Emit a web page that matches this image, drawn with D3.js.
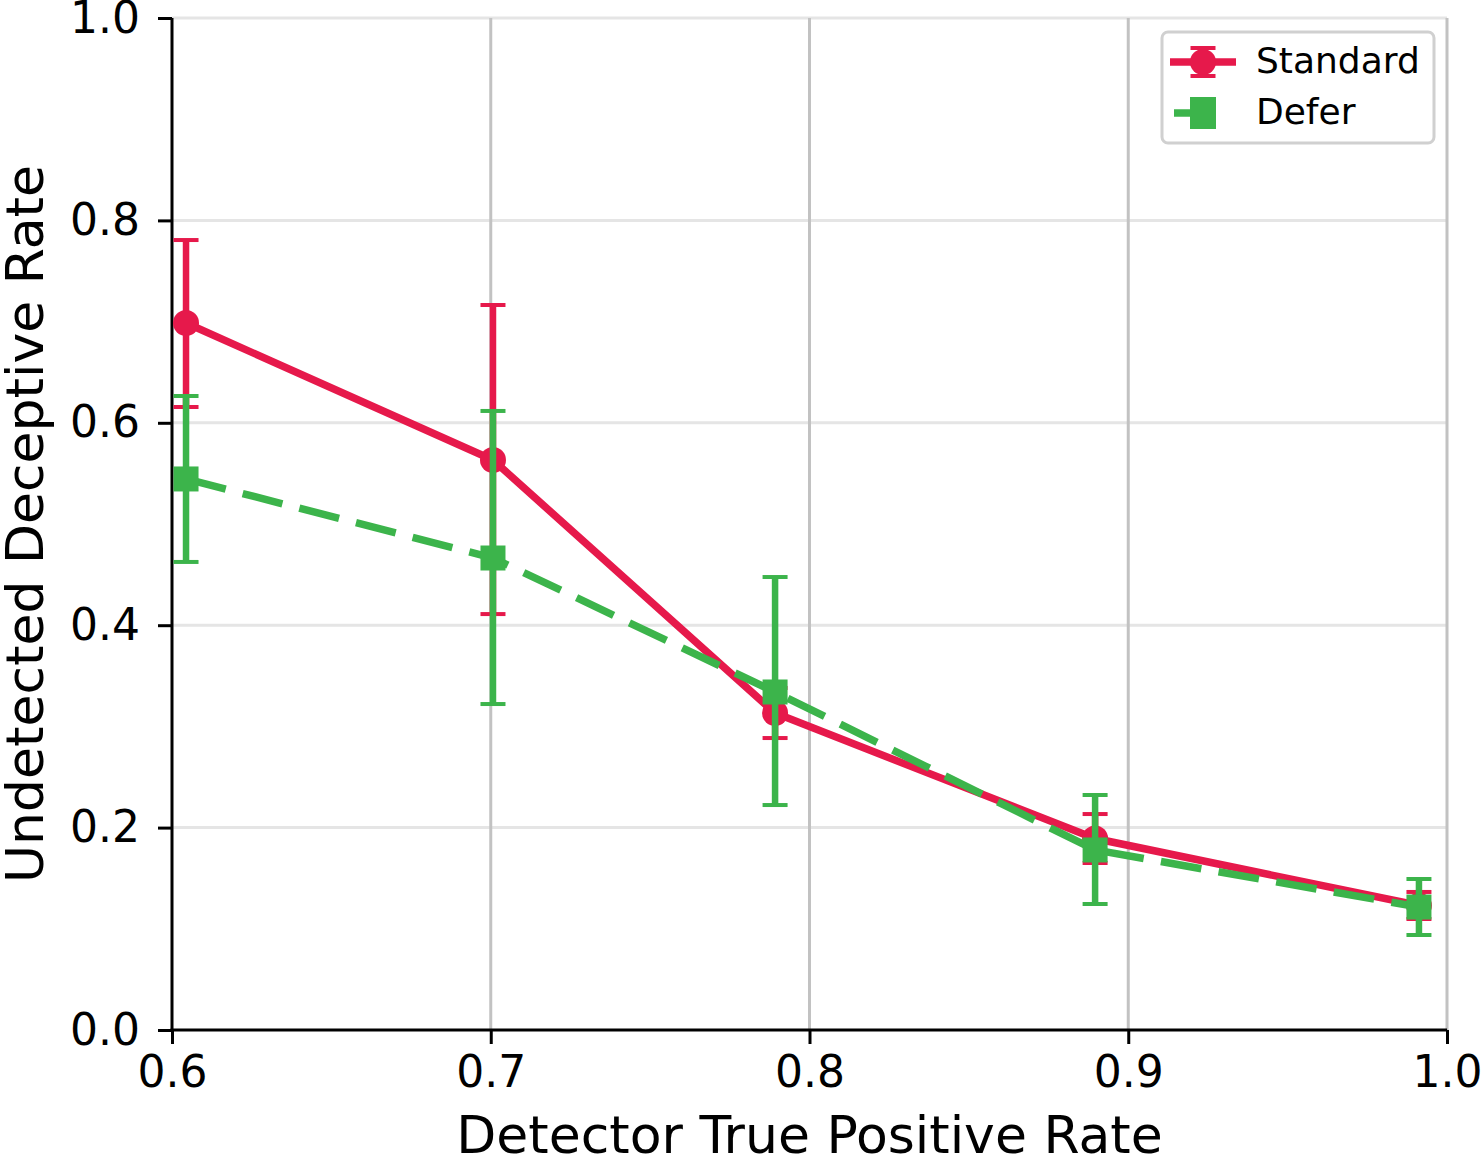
<!DOCTYPE html>
<html>
<head>
<meta charset="utf-8">
<script src="https://cdn.jsdelivr.net/npm/d3@7"></script>
<style>
  body { margin: 0; background: #fff; }
  text { font-family: "DejaVu Sans", sans-serif; }
</style>
</head>
<body>
<svg id="chart" width="1482" height="1163"></svg>
<script>
// detector TPR (x) for each run
const tprStandard = [0.6044, 0.7007, 0.7892, 0.8896, 0.9912];
const tprDefer = [0.6044, 0.7007, 0.7892, 0.8896, 0.9912];

// undetected deceptive rate, mean and error bar ends
const standardMean = [0.6986, 0.5632, 0.3132, 0.1892, 0.1230];
const standardLow = [0.6156, 0.4110, 0.2885, 0.1650, 0.1097];
const standardHigh = [0.7806, 0.7164, 0.3380, 0.2134, 0.1364];

const deferMean = [0.5445, 0.4664, 0.3340, 0.1779, 0.1215];
const deferLow = [0.4625, 0.3221, 0.2223, 0.1245, 0.0939];
const deferHigh = [0.6265, 0.6117, 0.4476, 0.2322, 0.1492];

const xTicks = [0.6, 0.7, 0.8, 0.9, 1.0];
const yTicks = [0.0, 0.2, 0.4, 0.6, 0.8, 1.0];

const seriesNames = ['Standard', 'Defer'];
const colors = { Standard: '#e6194b', Defer: '#3cb44b' };

const padding = { top: 18, right: 35, bottom: 133, left: 172 };

let svg = d3.select('#chart'),
  width = +svg.attr('width'),
  height = +svg.attr('height');

let x = d3.scaleLinear().domain([0.6, 1.0]).range([padding.left, width - padding.right]);
let y = d3.scaleLinear().domain([0, 1]).range([height - padding.bottom, padding.top]);

// grid lines
svg.append('g')
  .selectAll('line')
  .data(yTicks.filter(d => d > 0))
  .enter()
  .append('line')
  .attr('x1', x(0.6)).attr('x2', x(1.0))
  .attr('y1', d => y(d)).attr('y2', d => y(d))
  .attr('stroke', '#e5e5e5')
  .attr('stroke-width', 3);

svg.append('g')
  .selectAll('line')
  .data(xTicks.filter(d => d > 0.6))
  .enter()
  .append('line')
  .attr('x1', d => x(d)).attr('x2', d => x(d))
  .attr('y1', y(0)).attr('y2', y(1))
  .attr('stroke', '#c2c2c2')
  .attr('stroke-width', 3);

// axes
let xAxis = svg.append('g')
  .attr('transform', `translate(0, ${y(0)})`)
  .call(d3.axisBottom(x).tickValues(xTicks).tickFormat(d3.format('.1f')).tickSize(14).tickPadding(12));
let yAxis = svg.append('g')
  .attr('transform', `translate(${x(0.6)}, 0)`)
  .call(d3.axisLeft(y).tickValues(yTicks).tickFormat(d3.format('.1f')).tickSize(14).tickPadding(18));

[xAxis, yAxis].forEach(a => {
  a.selectAll('.domain').attr('stroke', '#000').attr('stroke-width', 3);
  a.selectAll('.tick line').attr('stroke', '#000').attr('stroke-width', 3);
  a.selectAll('.tick text').attr('fill', '#000').style('font-size', '44px');
});
// square off the domain ends (no outer ticks)
xAxis.select('.domain').attr('d', `M${x(0.6) - 1.5},0H${x(1.0)}`);
yAxis.select('.domain').attr('d', `M0,${y(0) + 1.5}V${y(1)}`);

// axis titles
svg.append('text')
  .attr('x', (x(0.6) + x(1.0)) / 2)
  .attr('y', 1153)
  .attr('text-anchor', 'middle')
  .style('font-size', '52px')
  .text('Detector True Positive Rate');

svg.append('text')
  .attr('transform', `translate(43, ${(y(0) + y(1)) / 2}) rotate(-90)`)
  .attr('text-anchor', 'middle')
  .style('font-size', '52px')
  .text('Undetected Deceptive Rate');

function buildSeries(xs, mean, low, high) {
  return xs.map((d, i) => ({ x: d, y: mean[i], lo: low[i], hi: high[i] }));
}

const standardData = buildSeries(tprStandard, standardMean, standardLow, standardHigh);
const deferData = buildSeries(tprDefer, deferMean, deferLow, deferHigh);

let line = d3.line().x(d => x(d.x)).y(d => y(d.y));
const capHalf = 12.5;

function drawSeries(data, name) {
  let color = colors[name];
  let g = svg.append('g');

  // error bars
  let eb = g.selectAll('.eb').data(data).enter().append('g');
  eb.append('line')
    .attr('x1', d => x(d.x)).attr('x2', d => x(d.x))
    .attr('y1', d => y(d.lo)).attr('y2', d => y(d.hi))
    .attr('stroke', color).attr('stroke-width', 6.5);
  eb.append('line')
    .attr('x1', d => x(d.x) - capHalf).attr('x2', d => x(d.x) + capHalf)
    .attr('y1', d => y(d.lo)).attr('y2', d => y(d.lo))
    .attr('stroke', color).attr('stroke-width', 4);
  eb.append('line')
    .attr('x1', d => x(d.x) - capHalf).attr('x2', d => x(d.x) + capHalf)
    .attr('y1', d => y(d.hi)).attr('y2', d => y(d.hi))
    .attr('stroke', color).attr('stroke-width', 4);

  // line
  let path = g.append('path')
    .datum(data)
    .attr('d', line)
    .attr('fill', 'none')
    .attr('stroke', color)
    .attr('stroke-width', 7.5);
  if (name === 'Defer') path.attr('stroke-dasharray', '41,17.5');

  // markers
  if (name === 'Standard') {
    g.selectAll('circle').data(data).enter().append('circle')
      .attr('cx', d => x(d.x)).attr('cy', d => y(d.y))
      .attr('r', 13)
      .attr('fill', color);
  } else {
    g.selectAll('rect').data(data).enter().append('rect')
      .attr('x', d => x(d.x) - 12.5).attr('y', d => y(d.y) - 12.5)
      .attr('width', 25).attr('height', 25)
      .attr('fill', color);
  }
}

drawSeries(standardData, 'Standard');
drawSeries(deferData, 'Defer');

// legend
let legend = svg.append('g');
legend.append('rect')
  .attr('x', 1162).attr('y', 32)
  .attr('width', 272).attr('height', 111)
  .attr('rx', 6)
  .attr('fill', '#fff').attr('fill-opacity', 0.8)
  .attr('stroke', '#d0d0d0').attr('stroke-width', 3);

const legendY = [62, 113];
seriesNames.forEach((name, i) => {
  let cy = legendY[i];
  let color = colors[name];
  if (name === 'Standard') {
    legend.append('line').attr('x1', 1170).attr('x2', 1236).attr('y1', cy).attr('y2', cy)
      .attr('stroke', color).attr('stroke-width', 7.5);
    legend.append('line').attr('x1', 1203).attr('x2', 1203).attr('y1', cy - 14).attr('y2', cy + 14)
      .attr('stroke', color).attr('stroke-width', 6.5);
    [cy - 14, cy + 14].forEach(cyy => {
      legend.append('line').attr('x1', 1203 - capHalf).attr('x2', 1203 + capHalf).attr('y1', cyy).attr('y2', cyy)
        .attr('stroke', color).attr('stroke-width', 4);
    });
    legend.append('circle').attr('cx', 1203).attr('cy', cy).attr('r', 13).attr('fill', color);
  } else {
    legend.append('line').attr('x1', 1174).attr('x2', 1203).attr('y1', cy).attr('y2', cy)
      .attr('stroke', color).attr('stroke-width', 7.5);
    legend.append('rect').attr('x', 1190).attr('y', cy - 16).attr('width', 26).attr('height', 32)
      .attr('fill', color);
  }
  legend.append('text')
    .attr('x', 1256).attr('y', cy + 11)
    .style('font-size', '36px')
    .text(name);
});
</script>
</body>
</html>
